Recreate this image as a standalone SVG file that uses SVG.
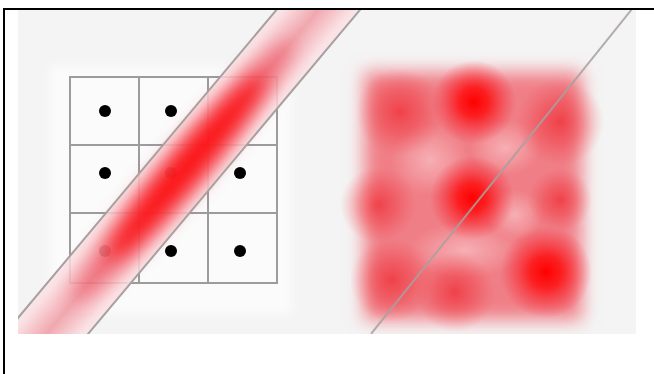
<svg xmlns="http://www.w3.org/2000/svg" width="654" height="374" viewBox="0 0 654 374">
<defs>
<style>
.grid{stroke:#9c9c9c;stroke-width:2;fill:none}
.dot{fill:#000}
.gline{stroke:#a8a0a0;stroke-width:2;fill:none}
.frame{stroke:#000;stroke-width:2;fill:none}
.blob{fill:url(#blobGrad)}
.soft{fill:url(#softGrad)}
.light{fill:url(#lightGrad)}
</style>
<clipPath id="bgclip"><rect x="18" y="10" width="618" height="324"/></clipPath>
<linearGradient id="bandGrad" x1="0" y1="0" x2="0" y2="1">
<stop offset="0" stop-color="#f8e4e6"/>
<stop offset="0.1" stop-color="#fbdde0"/>
<stop offset="0.5" stop-color="#f09aa3"/>
<stop offset="0.9" stop-color="#fbdde0"/>
<stop offset="1" stop-color="#f8e4e6"/>
</linearGradient>
<radialGradient id="blobGrad">
<stop offset="0" stop-color="#ff0000" stop-opacity="1"/>
<stop offset="0.35" stop-color="#ff0808" stop-opacity="0.8"/>
<stop offset="1" stop-color="#f52030" stop-opacity="0"/>
</radialGradient>
<radialGradient id="softGrad">
<stop offset="0" stop-color="#f01820" stop-opacity="0.6"/>
<stop offset="0.5" stop-color="#f02830" stop-opacity="0.35"/>
<stop offset="1" stop-color="#f04048" stop-opacity="0"/>
</radialGradient>
<radialGradient id="lightGrad">
<stop offset="0" stop-color="#f7bcc0" stop-opacity="0.8"/>
<stop offset="0.55" stop-color="#f6b0b5" stop-opacity="0.45"/>
<stop offset="1" stop-color="#f4a4aa" stop-opacity="0"/>
</radialGradient>
<filter id="blurS" x="-50%" y="-50%" width="200%" height="200%"><feGaussianBlur stdDeviation="4"/></filter>
<filter id="blurM" x="-50%" y="-150%" width="200%" height="400%"><feGaussianBlur stdDeviation="10"/></filter>
<filter id="blurL" x="-30%" y="-30%" width="160%" height="160%"><feGaussianBlur stdDeviation="9"/></filter>
</defs>
<rect x="0" y="0" width="654" height="374" fill="#fff"/>
<g id="frame">
<line class="frame" x1="3" y1="9" x2="654" y2="9"/>
<line class="frame" x1="4" y1="8" x2="4" y2="374"/>
</g>
<g id="background" clip-path="url(#bgclip)">
<rect x="18" y="10" width="618" height="324" fill="#f4f4f4"/>
</g>
<g id="left-panel" clip-path="url(#bgclip)">
<rect x="50" y="66" width="242" height="248" fill="#fbfbfb" filter="url(#blurS)"/>
<g id="grid">
<rect class="grid" x="70" y="77" width="207" height="206"/>
<line class="grid" x1="139" y1="77" x2="139" y2="283"/>
<line class="grid" x1="208" y1="77" x2="208" y2="283"/>
<line class="grid" x1="70" y1="145" x2="277" y2="145"/>
<line class="grid" x1="70" y1="213" x2="277" y2="213"/>
</g>
<g id="dots">
<circle class="dot" cx="105" cy="111" r="6"/>
<circle class="dot" cx="171" cy="111" r="6"/>
<circle class="dot" cx="105" cy="173" r="6"/>
<circle class="dot" cx="171" cy="173" r="6"/>
<circle class="dot" cx="240" cy="173" r="6"/>
<circle class="dot" cx="105" cy="251" r="6"/>
<circle class="dot" cx="171" cy="251" r="6"/>
<circle class="dot" cx="240" cy="251" r="6"/>
</g>
<g id="band" transform="translate(183,171) rotate(-50)">
<rect x="-300" y="-32" width="600" height="64" fill="url(#bandGrad)" opacity="0.85"/>
<ellipse cx="0" cy="0" rx="170" ry="22" fill="#ec3848" opacity="0.5" filter="url(#blurM)"/>
<ellipse cx="5" cy="0" rx="120" ry="15" fill="#ff0000" opacity="0.85" filter="url(#blurM)"/>
<line class="gline" x1="-300" y1="-32" x2="300" y2="-32"/>
<line class="gline" x1="-300" y1="32" x2="300" y2="32"/>
</g>
</g>
<g id="right-panel" clip-path="url(#bgclip)">
<rect x="364" y="72" width="218" height="248" fill="#f07e86" filter="url(#blurL)"/>
<ellipse class="light" cx="430" cy="160" rx="40" ry="36"/>
<ellipse class="light" cx="505" cy="148" rx="36" ry="28"/>
<ellipse class="light" cx="465" cy="250" rx="58" ry="28"/>
<ellipse class="light" cx="515" cy="215" rx="28" ry="26"/>
<circle class="soft" cx="400" cy="112" r="44"/>
<circle class="soft" cx="560" cy="122" r="44"/>
<circle class="soft" cx="378" cy="205" r="38"/>
<circle class="soft" cx="560" cy="200" r="32"/>
<circle class="soft" cx="392" cy="280" r="42"/>
<circle class="soft" cx="455" cy="292" r="40"/>
<circle class="blob" cx="474" cy="102" r="42"/>
<circle class="blob" cx="472" cy="198" r="42"/>
<circle class="blob" cx="546" cy="272" r="46"/>
<line class="gline" x1="371" y1="334" x2="632" y2="9" opacity="0.85"/>
</g>
</svg>
